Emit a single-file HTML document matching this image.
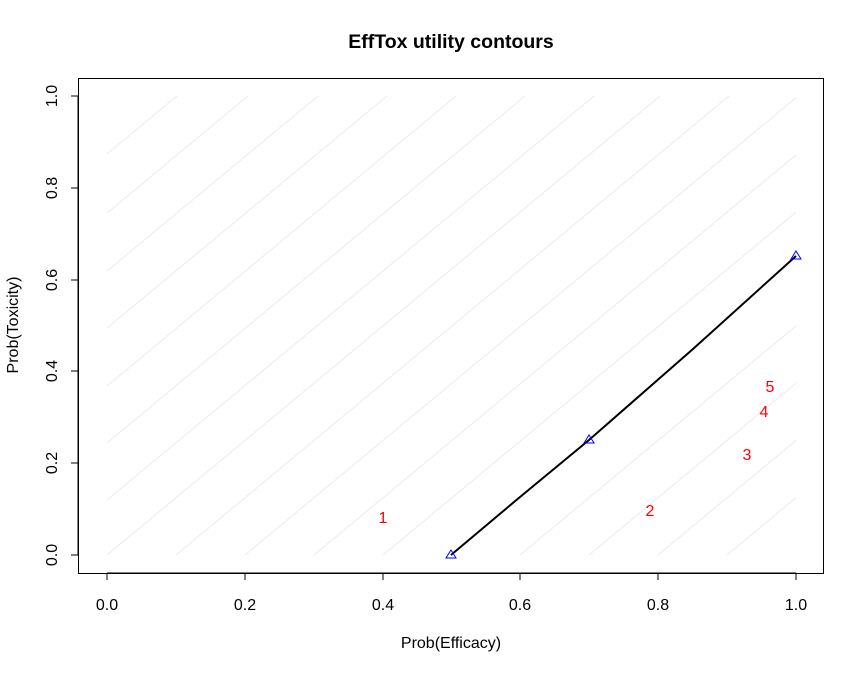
<!DOCTYPE html><html><head><style>body{margin:0;background:#fff}</style></head><body>
<svg width="864" height="672" xmlns="http://www.w3.org/2000/svg" font-family="Liberation Sans, Arial, sans-serif">
<defs><clipPath id="c"><rect x="107" y="96" width="689" height="459"/></clipPath></defs>
<g clip-path="url(#c)" stroke="#ebebeb" stroke-width="1">
<line x1="107" y1="500" x2="594" y2="96"/>
<line x1="107" y1="443" x2="525" y2="96"/>
<line x1="107" y1="386" x2="456" y2="96"/>
<line x1="107" y1="328" x2="387" y2="96"/>
<line x1="107" y1="271" x2="318" y2="96"/>
<line x1="107" y1="213" x2="248" y2="96"/>
<line x1="107" y1="154" x2="177" y2="96"/>
<line x1="107" y1="555" x2="660" y2="96"/>
<line x1="176" y1="555" x2="729" y2="96"/>
<line x1="245" y1="555" x2="798" y2="96"/>
<line x1="314" y1="555" x2="867" y2="96"/>
<line x1="383" y1="555" x2="936" y2="96"/>
<line x1="520" y1="555" x2="1073" y2="96"/>
<line x1="589" y1="555" x2="1142" y2="96"/>
<line x1="658" y1="555" x2="1211" y2="96"/>
<line x1="727" y1="555" x2="1280" y2="96"/>
</g>
<rect x="78.5" y="78.5" width="745" height="495" fill="none" stroke="#000"/>
<path d="M451,555 L520,497 L589,440 L693,349 L796,256" fill="none" stroke="#000" stroke-width="2"/>
<g fill="none" stroke="#00f" stroke-width="1">
<path d="M451,550 L456,558 L446,558Z"/><path d="M589,435 L594,443 L584,443Z"/><path d="M796,251 L801,259 L791,259Z"/>
</g>
<g fill="#f00" font-size="16" text-anchor="middle">
<text x="383" y="523">1</text><text x="650" y="516">2</text><text x="747" y="460">3</text><text x="764" y="417">4</text><text x="770" y="392">5</text>
</g>
<g stroke="#000">
<line x1="107" y1="573" x2="796" y2="573"/>
<line x1="107" y1="573" x2="107" y2="580"/><line x1="245" y1="573" x2="245" y2="580"/><line x1="383" y1="573" x2="383" y2="580"/><line x1="520" y1="573" x2="520" y2="580"/><line x1="658" y1="573" x2="658" y2="580"/><line x1="796" y1="573" x2="796" y2="580"/>
<line x1="78" y1="96" x2="78" y2="555"/>
<line x1="71" y1="555" x2="78" y2="555"/><line x1="71" y1="463" x2="78" y2="463"/><line x1="71" y1="371" x2="78" y2="371"/><line x1="71" y1="280" x2="78" y2="280"/><line x1="71" y1="188" x2="78" y2="188"/><line x1="71" y1="96" x2="78" y2="96"/>
</g>
<g font-size="16" text-anchor="middle" fill="#000">
<text x="107" y="610">0.0</text><text x="245" y="610">0.2</text><text x="383" y="610">0.4</text><text x="520" y="610">0.6</text><text x="658" y="610">0.8</text><text x="796" y="610">1.0</text>
<text transform="translate(57,555) rotate(-90)">0.0</text>
<text transform="translate(57,463) rotate(-90)">0.2</text>
<text transform="translate(57,371) rotate(-90)">0.4</text>
<text transform="translate(57,280) rotate(-90)">0.6</text>
<text transform="translate(57,188) rotate(-90)">0.8</text>
<text transform="translate(57,96) rotate(-90)">1.0</text>
<text x="451" y="648">Prob(Efficacy)</text>
<text transform="translate(18,325) rotate(-90)">Prob(Toxicity)</text>
<text x="451" y="48" font-size="19.5" font-weight="bold">EffTox utility contours</text>
</g>
</svg>
</body></html>
